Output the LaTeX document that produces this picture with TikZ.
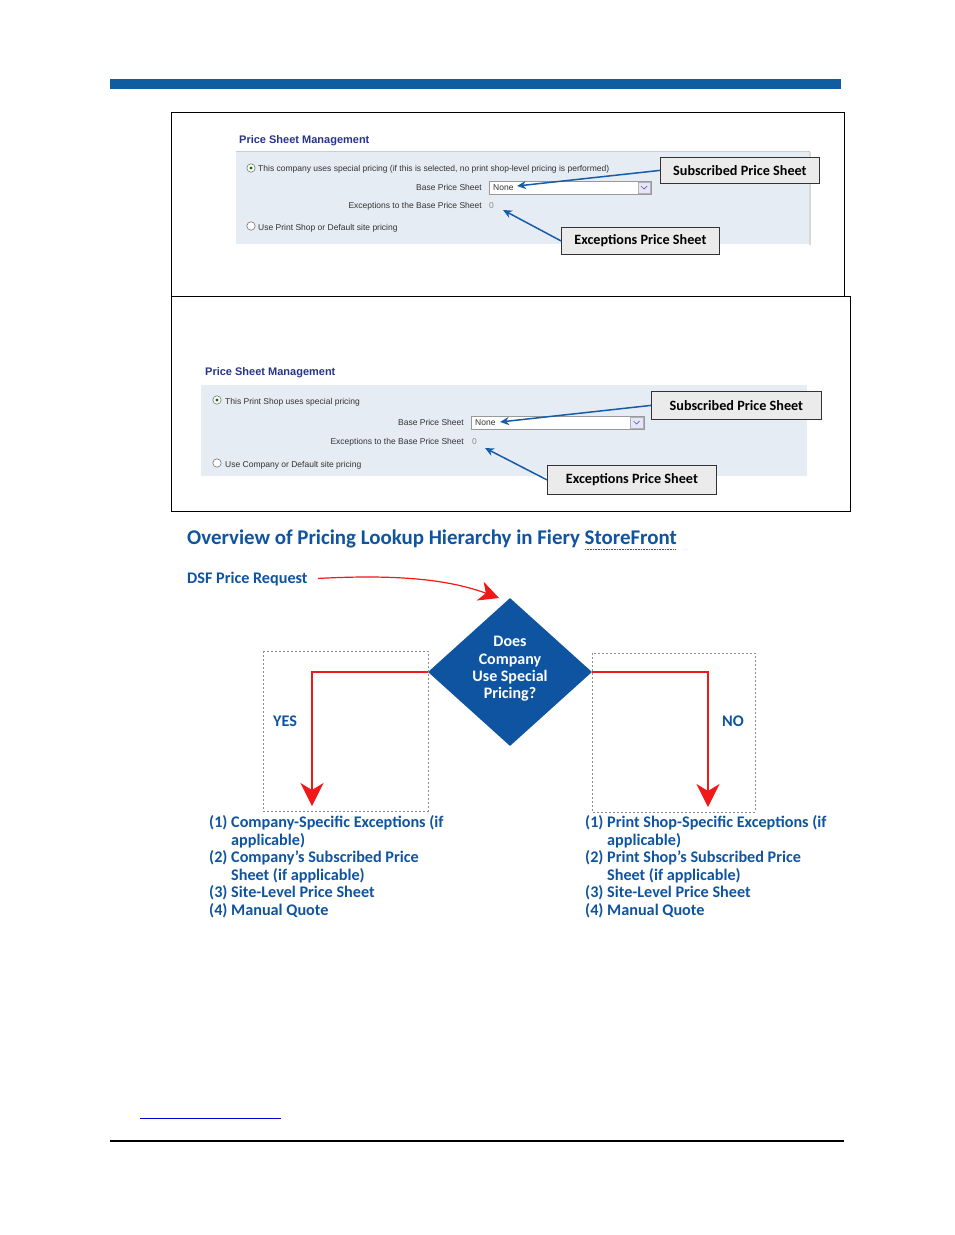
\documentclass[tikz,border=0pt]{standalone}
\usepackage{fontspec}
\setmainfont{Carlito}
\newfontfamily\uifont{Liberation Sans}
\usetikzlibrary{shapes.geometric,arrows.meta,positioning}
\definecolor{hdrblue}{RGB}{16,92,160}
\definecolor{flowblue}{RGB}{14,84,160}
\definecolor{uinavy}{RGB}{40,52,140}
\definecolor{uipanel}{RGB}{230,236,244}
\definecolor{uiarrow}{RGB}{22,92,168}
\definecolor{flowred}{RGB}{240,24,24}

\begin{document}
\begin{tikzpicture}[x=1pt,y=-1pt,
  uitxt/.style={font=\uifont\fontsize{8.5}{9}\selectfont,text=black!80,inner sep=0pt},
  uititle/.style={font=\uifont\bfseries\fontsize{11}{12}\selectfont,text=uinavy,inner sep=0pt,anchor=west},
  radio/.style={draw=black!55,fill=white,line width=0.6pt},
  callout/.style n args={2}{draw=black!80,fill=black!8,line width=0.8pt,
    minimum width=#1,minimum height=#2,anchor=north west,inner sep=0pt,
    font=\bfseries\fontsize{14.2}{15}\selectfont},
  callarrow/.style={draw=uiarrow,line width=1.5pt,-{Stealth[length=9pt,width=8pt]}},
  flowtxt/.style={text=flowblue,font=\bfseries\fontsize{16.2}{17.5}\selectfont,inner sep=0pt},
  flowline/.style={draw=flowred,line width=1.2pt,-{Stealth[length=23pt,width=23pt,inset=7pt]}},
  dashbox/.style={draw=black!45,line width=0.5pt,dash pattern=on 2pt off 2pt}]
\useasboundingbox[fill=white] (0,0) rectangle (954,1235);

% page header and footer rules
\fill[hdrblue] (110,79) rectangle (841,89);
\draw[blue!80!black,line width=1pt] (140,1118) -- (281,1118);
\draw[black,line width=1.4pt] (110,1141) -- (844,1141);

% screenshot frames
\draw[line width=0.9pt] (171,112) rectangle (844,296);
\draw[line width=0.9pt] (171,296) rectangle (850,511);

%% company screen
\node[uititle] (ttla) at (239,141) {Price Sheet Management};
\draw[black!20] (236,151) -- (810,151);
\fill[uipanel] (236,152) rectangle (810,244);
\draw[black!15,line width=1.5pt] (810,152) -- (810,245);
\draw[radio] (251,168) circle (4.2);
\fill[green!45!black] (251,168) circle (1.6);
\node[uitxt,anchor=west] (opta) at (258,169) {This company uses special pricing (if this is selected, no print shop-level pricing is performed)};
\node[uitxt,anchor=east] (basea) at (482,187) {Base Price Sheet};
\draw[black!40,fill=white] (489,181) rectangle (651,194);
\draw[black!30,fill=blue!10] (638,182) rectangle (650,193);
\draw[black!60,line width=0.7pt] (641,186) -- (644,189) -- (647,186);
\node[uitxt,anchor=west] (nonea) at (493,187.5) {None};
\node[uitxt,anchor=east] (exca) at (482,206) {Exceptions to the Base Price Sheet};
\node[uitxt,anchor=west,text=black!45] (zeroa) at (489,206) {0};
\draw[radio] (251,226) circle (4.2);
\node[uitxt,anchor=west] (optb) at (258,228) {Use Print Shop or Default site pricing};
\coordinate (subtipa) at (517,186);
\coordinate (exctipa) at (503,210);
\node[callout={159}{26}] (suba) at (660,157) {Subscribed Price Sheet};
\node[callout={158}{27}] (excba) at (561,227) {Exceptions Price Sheet};
\draw[callarrow] (suba.west) -- (subtipa);
\draw[callarrow] (excba.west) -- (exctipa);

%% print shop screen
\node[uititle] (ttlb) at (205,373) {Price Sheet Management};
\fill[uipanel] (201,385) rectangle (807,476);
\draw[radio] (217,400) circle (4.2);
\fill[green!45!black] (217,400) circle (1.6);
\node[uitxt,anchor=west] (optc) at (225,402) {This Print Shop uses special pricing};
\node[uitxt,anchor=east] (baseb) at (464,422) {Base Price Sheet};
\draw[black!40,fill=white] (471,416) rectangle (644,429);
\draw[black!30,fill=blue!10] (630,417) rectangle (643,428);
\draw[black!60,line width=0.7pt] (633.5,421) -- (636.5,424) -- (639.5,421);
\node[uitxt,anchor=west] (noneb) at (475,422.5) {None};
\node[uitxt,anchor=east] (excb) at (464,442) {Exceptions to the Base Price Sheet};
\node[uitxt,anchor=west,text=black!45] (zerob) at (472,442) {0};
\draw[radio] (217,463) circle (4.2);
\node[uitxt,anchor=west] (optd) at (225,465) {Use Company or Default site pricing};
\coordinate (subtipb) at (500,422);
\coordinate (exctipb) at (485,448);
\node[callout={170}{28}] (subb) at (651,391) {Subscribed Price Sheet};
\node[callout={169}{29}] (excbb) at (547,465) {Exceptions Price Sheet};
\draw[callarrow] (subb.west) -- (subtipb);
\draw[callarrow] (excbb.west) -- (exctipb);

%% lookup hierarchy
\node[flowtxt,anchor=west,font=\bfseries\fontsize{20.9}{22}\selectfont] (title) at (187,539)
  {Overview of Pricing Lookup Hierarchy in Fiery StoreFront};
\draw[flowred,line width=0.6pt,densely dotted] (585,549) -- (676,549);
\node[flowtxt,anchor=west] (dsf) at (187,579) {DSF Price Request};
\node[diamond,fill=flowblue,minimum width=164,minimum height=148,inner sep=0pt] (dec) at (510,672) {};
\node[align=center,text=white,font=\bfseries\fontsize{16}{17.3}\selectfont,inner sep=0pt] (dectxt) at (510,669)
  {Does\\Company\\Use Special\\Pricing?};
\coordinate (dsftip) at (499,598);
\draw[draw=flowred,line width=1.2pt,shorten <=10pt,-{Stealth[length=20pt,width=20pt,inset=6pt]}]
  (dsf.east) .. controls (400,574) and (450,580) .. (dsftip);

\draw[dashbox] (263,651) rectangle (428,811);
\draw[dashbox] (592,653) rectangle (755,812);
\coordinate (yesend) at (312,806);
\coordinate (noend) at (708,807);
\draw[flowline] (dec.west) -| (yesend);
\draw[flowline] (dec.east) -| (noend);
\node[flowtxt] (yes) at (285,721) {YES};
\node[flowtxt] (no) at (733,721) {NO};

\foreach \x/\who/\nm in {209/Company/lcomp,585/Print Shop/lshop} {
  \node[flowtxt,anchor=north west,align=left] (\nm) at (\x,815.5)
    {(1) \who-Specific Exceptions (if\\\phantom{(1) }applicable)\\
     (2) \who’s Subscribed Price\\\phantom{(2) }Sheet (if applicable)\\
     (3) Site-Level Price Sheet\\(4) Manual Quote};
}
\end{tikzpicture}
\end{document}
